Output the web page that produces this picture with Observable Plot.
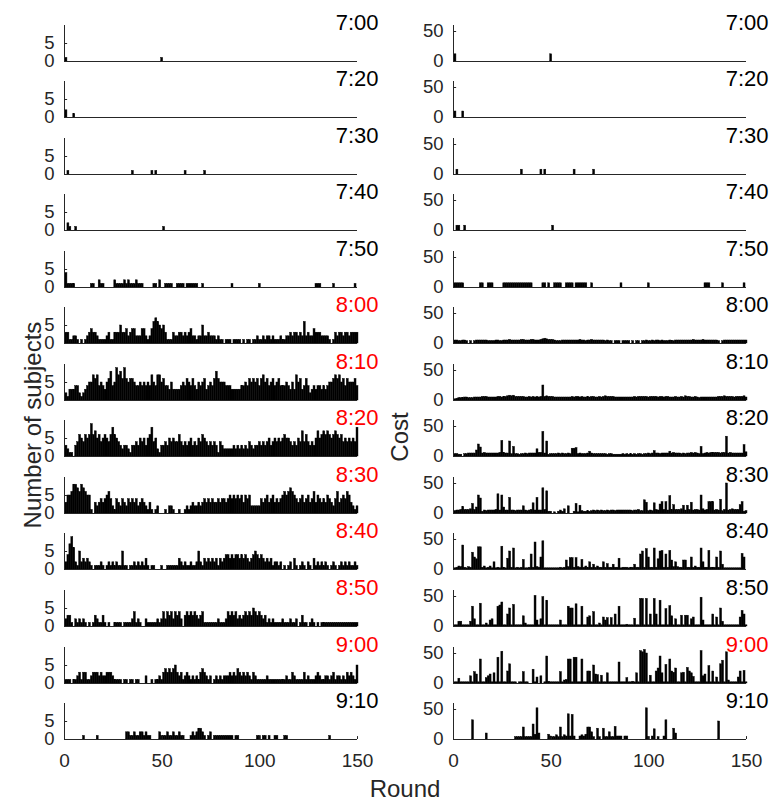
<!DOCTYPE html>
<html><head><meta charset="utf-8">
<script src="https://cdn.jsdelivr.net/npm/d3@7"></script>
<script src="https://cdn.jsdelivr.net/npm/@observablehq/plot@0.6"></script>
<style>
body{margin:0;background:#fff;}
#chart{position:relative;width:773px;height:805px;font-family:"Liberation Sans",Arial,sans-serif;overflow:hidden;}
#chart svg{position:absolute;overflow:visible;}
.lab{position:absolute;font-size:24px;color:#262626;white-space:nowrap;line-height:1;}
</style></head><body><div id="chart"></div>
<script>
// ---- categories / labels ----
const times = ["7:00","7:20","7:30","7:40","7:50","8:00","8:10","8:20","8:30","8:40","8:50","9:00","9:10"];
const leftRedTimes = ["8:00","8:10","8:20","8:30","8:40","8:50","9:00"];
const rightRedTimes = ["9:00"];
const xTicks = [0, 50, 100, 150];
const leftYTicks = [0, 5];
const rightYTicks = [0, 50];
const leftYMax = 10;
const rightYMax = 60;

// ---- Number of subjects (left column); sparse rows are [round, value] ----
const L0700 = [[1,1],[50,1]];
const L0720 = [[1,2],[5,1]];
const L0730 = [[2,1],[35,1],[45,1],[47,1],[62,1],[72,1]];
const L0740 = [[2,2],[3,1],[6,1],[51,1]];
const L0750 = [[1,4],[2,1],[3,1],[4,1],[5,1],[14,1],[15,1],[18,2],[19,1],[20,1],[26,2],[27,1],[28,1],[29,1],[30,1],[31,2],[32,1],[33,2],[34,1],[35,1],[36,1],[37,2],[38,1],[39,1],[40,1],[46,1],[47,1],[49,2],[52,1],[53,1],[54,1],[55,1],[58,1],[59,1],[60,1],[61,1],[63,1],[64,1],[65,1],[66,1],[67,1],[68,1],[71,1],[86,1],[100,1],[129,1],[130,1],[131,1],[138,1],[149,1]];
const L0800 = [3,3,1,1,2,2,1,0,1,0, 1,2,3,4,3,3,2,1,1,1, 1,2,3,1,1,3,3,3,5,3, 3,4,2,3,4,4,2,2,2,4, 4,2,1,2,4,6,7,6,5,4,
  5,3,1,1,1,3,2,2,3,3, 2,3,2,3,4,2,2,1,2,2, 5,2,2,3,2,2,2,1,2,1, 1,0,1,1,1,0,1,1,1,1, 0,1,0,1,1,0,1,1,2,1,
  1,2,1,2,2,1,2,1,1,1, 2,1,1,2,2,3,2,3,3,2, 3,2,6,2,3,2,2,4,3,3, 3,2,2,2,2,1,0,1,3,2, 3,3,2,3,3,2,3,3,3,3];
const L0810 = [2,1,3,3,3,4,4,2,1,2, 3,4,5,5,7,6,7,4,5,4, 3,5,6,8,4,5,9,7,8,6, 9,6,5,6,6,5,4,4,5,4, 5,4,5,4,7,5,4,7,7,5,
  6,4,4,3,5,3,3,3,3,4, 5,4,6,5,4,6,4,3,5,4, 5,6,3,4,5,4,6,8,6,5, 5,5,4,4,4,3,3,3,3,3, 4,4,5,4,6,5,6,5,6,4,
  6,7,5,6,4,5,6,4,5,6, 4,4,4,5,4,3,5,3,7,5, 6,3,4,6,4,2,3,4,3,4, 4,3,4,3,4,5,5,6,7,6, 7,5,6,4,6,5,5,5,6,4];
const L0820 = [3,2,1,1,0,3,4,6,5,4, 6,5,6,9,6,7,5,6,4,5, 6,5,4,6,8,6,5,4,3,2, 3,3,2,1,3,3,4,3,5,4, 5,3,5,6,8,4,5,2,1,3,
  3,4,3,5,4,5,4,4,6,4, 3,4,3,4,5,3,4,3,5,4, 6,5,4,3,4,3,4,3,1,4, 3,2,2,2,2,2,3,2,3,2, 3,2,3,2,4,3,2,3,3,4,
  3,4,3,4,5,3,4,5,4,5, 4,5,6,5,5,4,3,4,3,5, 4,7,4,6,4,3,4,3,5,7, 5,6,7,6,7,6,5,6,7,6, 5,6,4,5,4,5,4,5,4,8];
const L0830 = [3,5,5,6,8,8,7,6,8,7, 6,5,5,1,0,3,2,3,4,3, 4,5,6,4,2,1,4,3,2,4, 3,2,4,3,4,3,4,2,3,4, 3,2,1,3,1,0,1,2,0,0,
  0,1,0,2,2,1,0,0,1,0, 0,1,2,1,2,3,2,2,3,2, 3,4,3,4,3,4,3,3,4,3, 4,4,3,4,5,4,5,4,5,4, 5,3,5,4,5,2,2,2,2,2,
  4,3,4,5,3,4,5,3,4,3, 4,5,6,5,6,7,6,5,4,3, 4,5,3,4,5,3,4,6,3,5, 4,3,4,3,5,4,3,2,4,6, 3,4,5,4,6,5,3,2,1,2];
const L0840 = [2,4,7,9,6,2,1,5,2,3, 2,3,2,1,0,1,1,1,2,1, 0,1,2,1,2,1,2,1,1,5, 1,1,0,1,1,2,1,2,1,2, 1,3,1,0,1,1,0,0,0,1,
  0,0,1,1,1,1,1,1,3,2, 1,2,1,1,2,1,1,2,5,2, 1,3,2,3,2,3,2,3,1,3, 2,3,4,4,3,4,3,4,4,3, 4,3,4,3,2,3,4,5,4,3,
  4,3,2,3,2,3,1,2,2,1, 2,0,1,0,1,2,0,3,1,0, 1,2,1,0,2,1,0,3,1,2, 1,2,1,2,1,0,1,2,1,0, 1,2,1,2,1,2,1,1,2,1];
const L0850 = [2,3,3,1,0,2,1,2,1,2, 1,0,1,0,1,3,2,1,1,3, 1,0,1,0,0,1,1,1,1,0, 1,1,1,1,2,4,1,2,1,0, 0,2,1,1,1,1,1,2,1,2,
  4,2,4,3,4,2,4,3,4,2, 0,3,4,3,4,3,4,3,2,3, 4,1,1,1,1,1,1,1,2,1, 1,1,2,4,3,4,3,4,2,3, 2,3,4,3,4,3,5,4,3,4,
  3,2,3,1,2,1,2,1,1,1, 1,2,1,1,1,2,1,1,2,0, 1,3,1,1,0,1,2,1,0,1, 0,1,1,1,1,1,1,1,1,1, 1,1,1,1,1,1,1,1,1,1];
const L0900 = [1,1,1,0,1,1,2,3,1,3, 3,1,1,2,3,3,3,2,3,2, 2,3,3,3,2,1,1,1,1,0, 1,1,0,1,1,0,1,1,0,0, 0,2,0,0,1,0,1,1,2,1,
  3,4,3,4,3,4,5,3,2,3, 1,2,3,2,1,2,1,2,1,3, 4,3,2,1,2,0,1,2,1,2, 1,2,2,2,3,2,3,2,4,3, 2,3,2,3,2,1,3,2,1,1,
  1,1,1,2,1,1,1,1,1,1, 1,1,1,2,1,1,3,2,1,1, 1,1,3,1,2,1,1,1,2,3, 2,1,1,2,2,1,2,3,1,2, 2,1,2,1,3,2,3,2,1,5];
const L0910 = [[10,1],[17,1],[32,2],[33,2],[34,1],[35,1],[36,2],[37,1],[38,1],[39,2],[40,2],[41,1],[42,2],[43,1],[44,1],[49,2],[50,1],[51,1],[52,1],[53,2],[54,1],[55,1],[56,2],[57,1],[58,1],[59,2],[60,1],[61,1],[65,1],[66,2],[67,1],[68,2],[69,3],[70,3],[71,2],[72,1],[74,1],[75,2],[77,1],[78,1],[79,1],[80,1],[81,1],[82,1],[83,1],[84,1],[85,1],[86,1],[88,1],[89,1],[99,1],[100,1],[102,1],[103,1],[105,1],[108,1],[109,1],[113,1],[114,1],[136,1]];

// ---- Cost (right column) ----
const R0700 = [[1,12],[50,12]];
const R0720 = [[1,10],[5,10]];
const R0730 = [[2,8],[35,8],[45,8],[47,8],[62,8],[72,8]];
const R0740 = [[2,8],[3,8],[6,8],[51,8]];
const R0750 = [[1,7],[2,7],[3,7],[4,7],[5,7],[14,7],[15,7],[18,7],[19,7],[20,7],[26,7],[27,7],[28,7],[29,7],[30,7],[31,7],[32,7],[33,7],[34,7],[35,7],[36,7],[37,7],[38,7],[39,7],[40,7],[46,7],[47,7],[49,7],[52,7],[53,7],[54,7],[55,7],[58,7],[59,7],[60,7],[61,7],[63,7],[64,7],[65,7],[66,7],[67,7],[68,7],[71,7],[86,7],[100,7],[129,7],[130,7],[131,7],[138,7],[149,7]];
const R0800 = [5,5,4,4,5,5,4,0,4,0, 4,5,5,5,5,5,5,4,4,4, 4,5,5,4,4,5,5,5,6,5, 5,5,5,5,6,6,5,5,5,6, 6,5,5,5,6,7,8,7,6,6,
  6,5,4,4,4,5,5,5,5,5, 5,5,5,5,6,5,5,4,5,5, 6,5,5,5,5,5,5,4,5,4, 4,0,4,4,4,0,4,4,4,4, 0,4,0,4,4,0,4,4,5,4,
  4,5,4,5,5,4,5,4,4,4, 5,4,4,5,5,5,5,5,5,5, 5,5,6,5,5,5,5,6,5,5, 5,5,5,5,5,4,0,4,5,5, 5,5,5,5,5,5,5,5,5,5];
const R0810 = [2,3,4,4,4,5,5,4,4,4, 5,5,5,5,6,6,6,5,5,5, 5,5,6,6,5,6,6,7,8,7, 8,6,6,6,6,6,5,5,6,5, 6,5,6,5,6,25,6,7,6,6,
  6,5,5,5,5,5,5,5,5,5, 6,5,6,6,5,6,5,5,6,5, 6,6,5,5,6,5,6,7,6,6, 6,6,5,5,5,5,5,5,5,5, 5,5,6,5,6,6,6,6,6,5,
  6,6,6,6,5,6,6,5,6,6, 5,5,5,6,5,5,6,5,7,6, 6,5,5,6,5,4,5,5,5,5, 5,5,5,5,5,6,6,6,7,6, 6,6,6,5,6,6,6,6,7,5];
const R0820 = [4,4,3,3,0,4,4,5,5,5, 5,10,20,15,5,6,5,5,5,5, 5,5,5,6,26,6,5,5,25,4, 16,4,4,3,4,4,5,4,5,5, 5,5,12,6,6,41,5,25,3,4,
  4,4,4,5,4,5,4,4,5,4, 13,13,14,4,5,4,4,4,5,8, 5,4,4,4,4,4,4,4,3,4, 4,3,3,3,3,3,4,3,4,3, 4,3,4,3,4,4,3,4,4,5,
  4,5,9,5,5,4,5,5,5,5, 8,5,6,5,5,5,4,5,4,5, 5,6,5,6,5,4,16,4,5,6, 5,6,6,6,6,6,5,6,6,33, 5,6,5,5,5,5,5,5,19,7];
const R0830 = [4,5,5,6,11,6,6,6,7,16, 6,10,30,25,3,5,4,5,5,5, 5,6,32,5,30,10,5,5,26,5, 5,4,5,5,5,12,5,4,5,6, 17,5,26,5,5,42,6,37,3,3,
  0,2,0,3,5,3,7,0,12,0, 0,3,16,2,13,4,3,3,4,3, 4,5,4,5,4,5,4,4,5,4, 5,5,4,5,5,5,5,5,5,5, 5,4,5,5,6,4,4,22,18,4,
  5,4,17,6,5,15,19,6,19,5, 29,6,14,6,6,6,7,13,5,13, 6,18,5,6,6,5,30,7,5,6, 19,19,19,5,6,5,23,4,6,50, 5,6,7,6,6,6,14,19,3,4];
const R0840 = [2,3,5,4,40,3,2,4,3,28, 20,17,37,37,3,5,2,3,5,2, 12,2,3,2,38,3,2,18,30,3, 35,2,3,2,3,16,2,2,3,25, 3,45,4,3,20,47,2,2,2,2,
  2,2,2,2,3,2,3,15,4,19, 19,3,19,4,3,16,3,5,3,12, 3,8,3,5,3,3,12,3,9,3, 3,8,3,3,18,2,3,3,3,2, 3,3,8,3,3,25,30,3,34,20,
  3,3,35,3,17,30,31,3,25,3, 31,15,4,12,4,3,3,15,15,3, 3,20,3,5,3,3,35,12,3,3, 31,3,3,3,20,3,30,8,2,2, 2,2,2,2,2,2,2,26,20,0];
const R0850 = [2,2,8,8,2,2,2,2,8,33, 12,2,2,38,2,2,5,2,10,12, 2,2,33,35,40,2,2,20,30,2, 36,2,2,2,2,17,5,2,2,2, 2,51,10,2,12,49,2,43,2,2,
  2,2,2,2,10,2,2,2,33,30, 30,2,37,2,2,33,2,2,15,17, 2,24,2,2,5,2,15,10,14,2, 14,2,20,2,33,2,2,2,3,2, 2,2,13,2,2,46,46,2,46,2,
  20,2,46,20,2,43,2,2,29,2, 34,17,2,12,2,2,18,2,18,18, 2,12,15,2,2,2,48,10,2,2, 2,2,20,2,15,2,30,8,2,2, 2,2,2,2,2,2,15,26,20,2];
const R0900 = [2,2,8,2,2,2,2,2,12,2, 19,15,2,40,2,2,9,12,15,2, 17,2,43,2,53,2,2,20,32,2, 2,2,0,2,2,19,2,2,0,0, 23,2,10,0,12,0,2,45,3,2,
  2,2,2,2,19,2,5,6,40,40, 2,43,43,2,2,40,2,2,20,20, 2,30,15,14,2,13,2,2,17,2, 2,2,2,2,35,2,2,2,9,2, 2,3,2,17,2,54,52,56,50,2,
  13,2,2,20,25,45,17,2,31,2, 40,20,18,25,2,2,17,18,2,26, 20,17,11,2,2,2,54,12,15,2, 29,2,20,2,10,2,32,38,2,52, 5,2,2,2,2,10,20,2,21,2];
const R0910 = [[10,32],[17,10],[32,4],[33,4],[34,4],[35,4],[36,20],[37,4],[38,4],[39,4],[40,4],[41,25],[42,8],[43,52],[44,10],[49,8],[50,5],[51,4],[52,4],[53,7],[54,4],[55,20],[56,4],[57,7],[58,5],[59,42],[60,5],[61,41],[62,5],[65,5],[66,7],[67,5],[68,8],[69,20],[70,20],[71,12],[72,4],[74,18],[75,4],[77,18],[78,4],[79,4],[80,12],[81,4],[82,4],[83,21],[84,5],[85,5],[86,5],[88,5],[89,5],[99,52],[100,4],[102,5],[103,17],[105,4],[108,5],[109,32],[113,18],[114,10],[136,30]];

const leftSeries = [L0700,L0720,L0730,L0740,L0750,L0800,L0810,L0820,L0830,L0840,L0850,L0900,L0910];
const rightSeries = [R0700,R0720,R0730,R0740,R0750,R0800,R0810,R0820,R0830,R0840,R0850,R0900,R0910];

// ---- drawing ----
const chart = document.getElementById("chart");
const FONT = "'Liberation Sans', Arial, sans-serif";
const INK = "#262626";
const rowStep = 56.55, firstBase = 60.5, panelH = 36;

function toRows(s) {
  if (s.length && Array.isArray(s[0])) return s.map(([round, value]) => ({round, value}));
  return s.map((value, i) => ({round: i + 1, value}));
}

function panel(series, i, side) {
  const isLeft = side === "L";
  const yMax = isLeft ? leftYMax : rightYMax;
  const yTicks = isLeft ? leftYTicks : rightYTicks;
  const redSet = isLeft ? leftRedTimes : rightRedTimes;
  const t = times[i];
  const bottom = i === times.length - 1;
  const data = toRows(series).filter(d => d.value > 0);
  const marks = [
    Plot.rectY(data, {x1: d => d.round - 0.5, x2: d => d.round + 0.5, y: "value", fill: "#000",
      stroke: "#000", strokeWidth: 0.45}),
    Plot.ruleY([0], {stroke: INK, strokeWidth: 1}),
    Plot.ruleX([0], {stroke: INK, strokeWidth: 1}),
    Plot.ruleY(yTicks.slice(1), {x1: 0, x2: 1.6, stroke: INK}),
    Plot.axisY(yTicks, {label: null, tickSize: 0, tickPadding: 10, fontSize: 18.5, color: INK}),
    Plot.text([t], {text: d => d, frameAnchor: "top-right", dx: isLeft ? 21 : 22, dy: 4, lineAnchor: "bottom",
      textAnchor: "end", fontSize: 22, fill: redSet.includes(t) ? "#ff0000" : "#000"})
  ];
  if (bottom) {
    marks.push(Plot.axisX(xTicks, {label: null, tickSize: 0, tickPadding: 14, fontSize: 19, color: INK}));
    marks.push(Plot.ruleX(xTicks, {y1: 0, y2: yMax * 0.08, stroke: INK}));
  }
  const width = isLeft ? 386 : 383;
  const svg = Plot.plot({
    width, height: panelH,
    marginLeft: isLeft ? 64 : 63, marginRight: isLeft ? 29 : 27, marginTop: 0, marginBottom: 0,
    x: {domain: [0, 150], axis: bottom ? undefined : null, label: null},
    y: {domain: [0, yMax], axis: null, label: null},
    style: {fontFamily: FONT, overflow: "visible", background: "transparent"},
    marks
  });
  svg.style.left = (isLeft ? 0 : 390) + "px";
  svg.style.top = (firstBase + i * rowStep - panelH) + "px";
  chart.appendChild(svg);
}

times.forEach((t, i) => {
  panel(leftSeries[i], i, "L");
  panel(rightSeries[i], i, "R");
});

function label(text, x, y, rotate) {
  const d = document.createElement("div");
  d.className = "lab";
  d.textContent = text;
  d.style.left = x + "px";
  d.style.top = y + "px";
  d.style.transform = "translate(-50%,-50%)" + (rotate ? " rotate(-90deg)" : "");
  chart.appendChild(d);
}
label("Number of subjects", 33, 425, true);
label("Cost", 400, 437, true);
label("Round", 405, 789, false);
</script>
</body></html>
